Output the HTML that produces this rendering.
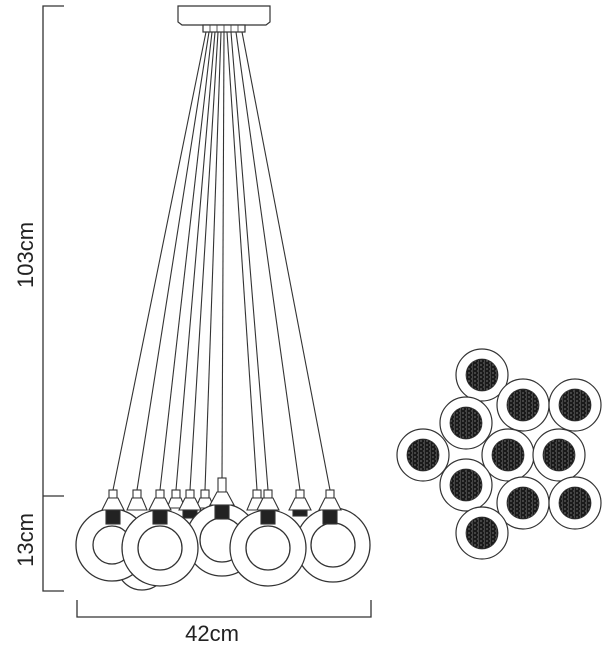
<!DOCTYPE html>
<html><head><meta charset="utf-8"><style>
html,body{margin:0;padding:0;background:#fff;width:603px;height:655px;overflow:hidden}
svg{display:block}
text{font-family:"Liberation Sans",Arial,sans-serif;fill:#222}
</style></head><body>
<svg width="603" height="655" viewBox="0 0 603 655" xmlns="http://www.w3.org/2000/svg">
<defs>
<pattern id="tex" width="6" height="4" patternUnits="userSpaceOnUse">
<rect width="6" height="4" fill="#1a1a1a"/>
<path d="M0 1h2M3 3h2M4 1h1" stroke="#888" stroke-width="0.7"/>
</pattern>
</defs>
<g stroke="#333" stroke-width="1.3" fill="none">
<path d="M64 6H43V591H64M43 496H64"/>
<path d="M77 600V617H371V600"/>
</g>
<text x="0" y="0" font-size="22" text-anchor="middle" transform="translate(33 255) rotate(-90)">103cm</text>
<text x="0" y="0" font-size="22" text-anchor="middle" transform="translate(33 540) rotate(-90)">13cm</text>
<text x="212" y="641" font-size="22" text-anchor="middle">42cm</text>

<g stroke="#333" stroke-width="1.2" fill="#fff">
<path d="M178 6H270V22L266 25H182L178 22Z"/>
<rect x="203" y="25" width="42" height="7"/>
</g>
<g stroke="#333" stroke-width="0.8" fill="none">
<path d="M210 25V32M217 25V32M224 25V32M231 25V32M238 25V32"/>
</g>

<g stroke="#333" stroke-width="1.1" fill="none">
<line x1="206" y1="32" x2="113" y2="490"/>
<line x1="209" y1="32" x2="137" y2="490"/>
<line x1="212" y1="32" x2="160" y2="490"/>
<line x1="215" y1="32" x2="176" y2="490"/>
<line x1="218" y1="32" x2="190" y2="490"/>
<line x1="221" y1="32" x2="205" y2="490"/>
<line x1="224" y1="32" x2="222" y2="478"/>
<line x1="227" y1="32" x2="257" y2="490"/>
<line x1="231" y1="32" x2="268" y2="490"/>
<line x1="236" y1="32" x2="300" y2="490"/>
<line x1="242" y1="32" x2="330" y2="490"/>
</g>

<g stroke="#333" stroke-width="1.1" fill="#fff">
<g transform="translate(176 0)"><rect x="-4" y="490" width="8" height="8"/><path d="M-5 498H5L9 508H-9Z"/></g>
<g transform="translate(205 0)"><rect x="-4" y="490" width="8" height="8"/><path d="M-5 498H5L9 508H-9Z"/></g>
<g transform="translate(137 0)"><rect x="-4" y="490" width="8" height="8"/><path d="M-5 498H5L10 510H-10Z"/></g>
<g transform="translate(257 0)"><rect x="-4" y="490" width="8" height="8"/><path d="M-5 498H5L10 510H-10Z"/></g>
<g transform="translate(190 0)"><rect x="-4" y="490" width="8" height="8"/><path d="M-5 498H5L11 510H-11Z"/><rect x="-7" y="510" width="14" height="8" fill="#222"/></g>
<g transform="translate(300 0)"><rect x="-4" y="490" width="8" height="8"/><path d="M-5 498H5L11 510H-11Z"/><rect x="-7" y="510" width="14" height="6" fill="#222"/></g>
</g>

<g stroke="#333" stroke-width="1.3" fill="#fff">
<circle cx="142" cy="565" r="25"/>
<circle cx="112" cy="545" r="36"/><circle cx="112" cy="545" r="19"/>
<circle cx="222" cy="540" r="36"/><circle cx="222" cy="540" r="22"/>
<circle cx="160" cy="548" r="38"/><circle cx="160" cy="548" r="22"/>
<circle cx="333" cy="545" r="37"/><circle cx="333" cy="545" r="22"/>
<circle cx="268" cy="548" r="38"/><circle cx="268" cy="548" r="22"/>
</g>

<g stroke="#333" stroke-width="1.1" fill="#fff">
<g transform="translate(113 0)"><rect x="-4" y="490" width="8" height="8"/><path d="M-5 498H5L11 510H-11Z"/><rect x="-7" y="510" width="14" height="14" fill="#222"/></g>
<g transform="translate(160 0)"><rect x="-4" y="490" width="8" height="8"/><path d="M-5 498H5L11 510H-11Z"/><rect x="-7" y="510" width="14" height="14" fill="#222"/></g>
<g transform="translate(222 0)"><rect x="-4" y="478" width="8" height="14"/><path d="M-5 492H5L12 505H-12Z"/><rect x="-7" y="505" width="14" height="14" fill="#222"/></g>
<g transform="translate(268 0)"><rect x="-4" y="490" width="8" height="8"/><path d="M-5 498H5L11 510H-11Z"/><rect x="-7" y="510" width="14" height="14" fill="#222"/></g>
<g transform="translate(330 0)"><rect x="-4" y="490" width="8" height="8"/><path d="M-5 498H5L11 510H-11Z"/><rect x="-7" y="510" width="14" height="14" fill="#222"/></g>
</g>

<g stroke="#333" stroke-width="1.2">
<g fill="#fff">
<circle cx="482" cy="375" r="26"/><circle cx="523" cy="405" r="26"/><circle cx="575" cy="405" r="26"/>
<circle cx="466" cy="423" r="26"/><circle cx="423" cy="455" r="26"/><circle cx="508" cy="455" r="26"/>
<circle cx="559" cy="455" r="26"/><circle cx="466" cy="485" r="26"/><circle cx="523" cy="503" r="26"/>
<circle cx="575" cy="503" r="26"/><circle cx="482" cy="533" r="26"/>
</g>
<g fill="url(#tex)" stroke-width="0.8">
<circle cx="482" cy="375" r="16"/><circle cx="523" cy="405" r="16"/><circle cx="575" cy="405" r="16"/>
<circle cx="466" cy="423" r="16"/><circle cx="423" cy="455" r="16"/><circle cx="508" cy="455" r="16"/>
<circle cx="559" cy="455" r="16"/><circle cx="466" cy="485" r="16"/><circle cx="523" cy="503" r="16"/>
<circle cx="575" cy="503" r="16"/><circle cx="482" cy="533" r="16"/>
</g>
</g>
</svg>
</body></html>
